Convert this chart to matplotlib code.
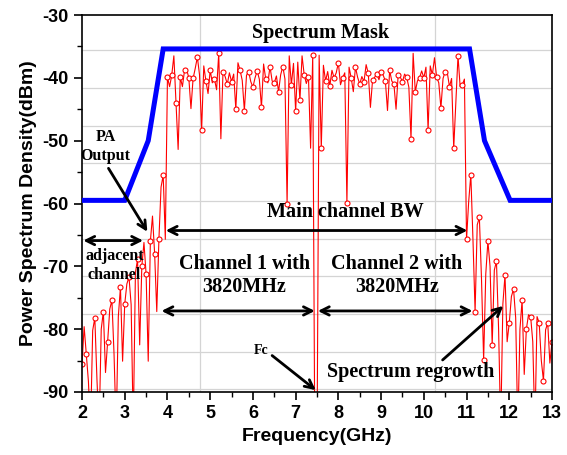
import numpy as np
import matplotlib
matplotlib.use("Agg")
import matplotlib.pyplot as plt
from matplotlib.ticker import MultipleLocator

plt.rcParams['axes.unicode_minus'] = False

# ---------------- data ----------------
freq = np.round(np.arange(2.0, 13.0001, 0.05), 2)
psd = [
    # 2.00 - 3.95 (lower adjacent channel)
    -85.6, -79.6, -84.0, -88.3, -96.0, -80.2, -78.2, -88.0, -96.0, -80.0,
    -77.2, -86.9, -82.0, -76.8, -75.4, -84.0, -96.0, -78.0, -73.3, -85.1,
    -76.0, -72.8, -71.7, -76.1, -96.0, -71.0, -68.9, -82.5, -70.0, -66.2,
    -71.2, -85.1, -66.0, -62.0, -68.0, -77.2, -65.7, -57.4, -55.5, -65.7,
    # 4.00 - 10.95 (main channel)
    -39.9, -41.4, -39.6, -36.5, -44.0, -51.4, -39.9, -41.4, -38.8, -38.7,
    -40.0, -44.9, -40.1, -38.5, -36.7, -39.5, -48.3, -38.1, -40.5, -42.5,
    -38.8, -40.8, -40.2, -41.9, -36.1, -49.7, -39.0, -39.8, -41.0, -39.2,
    -40.6, -39.4, -45.0, -37.6, -38.8, -40.4, -45.2, -39.6, -39.0, -40.6,
    -41.5, -40.0, -38.9, -40.2, -44.7, -37.8, -40.2, -40.8, -38.2, -40.5,
    -40.8, -39.7, -42.2, -39.5, -38.2, -40.2, -60.0, -36.5, -41.1, -37.7,
    -45.3, -37.5, -43.6, -36.5, -39.5, -40.9, -39.8, -51.2, -36.4, -100.0,
    -100.0, -36.4, -51.2, -38.0, -40.5, -39.0, -41.3, -38.8, -40.0, -39.2,
    -37.6, -41.1, -40.0, -39.2, -59.9, -38.3, -40.0, -42.2, -38.3, -39.9,
    -41.0, -39.8, -40.6, -37.9, -39.3, -44.7, -40.4, -39.9, -39.4, -40.3,
    -39.0, -39.6, -40.5, -45.2, -38.8, -40.5, -41.0, -45.0, -39.5, -39.9,
    -40.6, -39.4, -39.9, -41.5, -49.7, -36.1, -42.2, -40.5, -40.0, -38.9,
    -40.0, -38.3, -48.3, -38.1, -39.5, -36.8, -39.9, -40.8, -44.8, -40.1,
    -39.0, -39.2, -41.4, -40.1, -51.2, -44.0, -36.5, -41.4, -41.1, -40.2,
    # 11.00 - 13.00 (upper adjacent channel / regrowth)
    -65.7, -59.7, -55.4, -65.7, -77.2, -63.4, -62.2, -72.0, -84.9, -71.2,
    -66.0, -70.0, -82.5, -70.6, -69.2, -80.0, -96.0, -76.0, -71.4, -82.0,
    -79.0, -74.8, -73.6, -78.2, -96.0, -80.0, -75.4, -87.2, -80.0, -77.7,
    -78.0, -82.0, -96.0, -78.0, -79.0, -85.0, -88.2, -80.1, -79.0, -85.4,
    -82.0,
]

mask_freq = [2.0, 3.0, 3.55, 3.9, 11.07, 11.42, 12.02, 13.0]
mask_db = [-59.5, -59.5, -50.0, -35.4, -35.4, -50.0, -59.5, -59.5]

xticks = list(range(2, 14))
yticks = [-90, -80, -70, -60, -50, -40, -30]
grid_y = [-35.6, -41.6, -47.6, -53.6, -59.6, -65.6, -71.6, -77.6, -83.6, -89.6]
grid_x = [4.75, 10.25]

# ---------------- figure ----------------
fig = plt.figure(figsize=(5.67, 4.55), dpi=100)
ax = fig.add_axes([82/567, 1-392/455, (552-82)/567, (392-15)/455])

for gy in grid_y:
    ax.axhline(gy, color='#d4d4d4', lw=0.9, zorder=0)
for gx in grid_x:
    ax.axvline(gx, color='#d4d4d4', lw=0.9, zorder=0)

ax.plot(mask_freq, mask_db, color='#0000ff', lw=3.6, zorder=3, solid_joinstyle='miter')
ax.plot(freq, psd, color='#ff0000', lw=0.8, marker='o', markersize=3.6,
        markerfacecolor='white', markeredgecolor='#ff0000', markeredgewidth=0.8,
        markevery=2, zorder=2)

ax.set_xlim(2, 13)
ax.set_ylim(-90, -30)
ax.set_xticks(xticks)
ax.set_yticks(yticks)
ax.xaxis.set_minor_locator(MultipleLocator(0.5))
ax.yaxis.set_minor_locator(MultipleLocator(5))
ax.tick_params(which='major', direction='out', length=6, width=1.2)
ax.tick_params(which='minor', direction='out', length=3.5, width=1.0)
for sp in ax.spines.values():
    sp.set_linewidth(1.2)

for lab in ax.get_xticklabels() + ax.get_yticklabels():
    lab.set_fontfamily('Liberation Sans')
    lab.set_fontweight('bold')
    lab.set_fontsize(13)

ax.set_xlabel('Frequency(GHz)', fontfamily='Liberation Sans', fontweight='bold', fontsize=14, labelpad=4)
ax.set_ylabel('Power Spectrum Density(dBm)', fontfamily='Liberation Sans', fontweight='bold', fontsize=14, labelpad=4)

serif = dict(family='Liberation Serif', weight='bold')

ax.text(7.59, -32.8, 'Spectrum Mask', ha='center', va='center', fontsize=14.5, **serif)
ax.text(2.55, -51.0, 'PA\nOutput', ha='center', va='center', fontsize=11.5, linespacing=1.25, **serif)
ax.text(8.17, -61.3, 'Main channel BW', ha='center', va='center', fontsize=14.5, **serif)
ax.text(2.76, -69.9, 'adjacent\nchannel', ha='center', va='center', fontsize=11.5, linespacing=1.25, **serif)
ax.text(5.8, -71.4, 'Channel 1 with\n3820MHz', ha='center', va='center', fontsize=14.5, linespacing=1.2, **serif)
ax.text(9.37, -71.4, 'Channel 2 with\n3820MHz', ha='center', va='center', fontsize=14.5, linespacing=1.2, **serif)
ax.text(6.2, -83.4, 'Fc', ha='center', va='center', fontsize=10, **serif)
ax.text(9.7, -86.8, 'Spectrum regrowth', ha='center', va='center', fontsize=14.5, **serif)

arr1 = dict(arrowstyle='<->,head_length=0.6,head_width=0.3', lw=2.0, color='black', shrinkA=0, shrinkB=0)
arr2 = dict(arrowstyle='->,head_length=0.6,head_width=0.3', lw=2.0, color='black', shrinkA=0, shrinkB=0)

ax.annotate('', xy=(2.03, -65.9), xytext=(3.43, -65.9), arrowprops=arr1)
ax.annotate('', xy=(3.96, -64.3), xytext=(11.02, -64.3), arrowprops=arr1)
ax.annotate('', xy=(3.86, -77.1), xytext=(7.45, -77.1), arrowprops=arr1)
ax.annotate('', xy=(7.52, -77.1), xytext=(11.14, -77.1), arrowprops=arr1)
ax.annotate('', xy=(3.53, -64.5), xytext=(2.62, -54.4), arrowprops=arr2)
ax.annotate('', xy=(7.47, -89.7), xytext=(6.45, -84.2), arrowprops=arr2)
ax.annotate('', xy=(11.86, -76.3), xytext=(10.44, -84.9), arrowprops=arr2)

fig.savefig('out.png', dpi=100)
